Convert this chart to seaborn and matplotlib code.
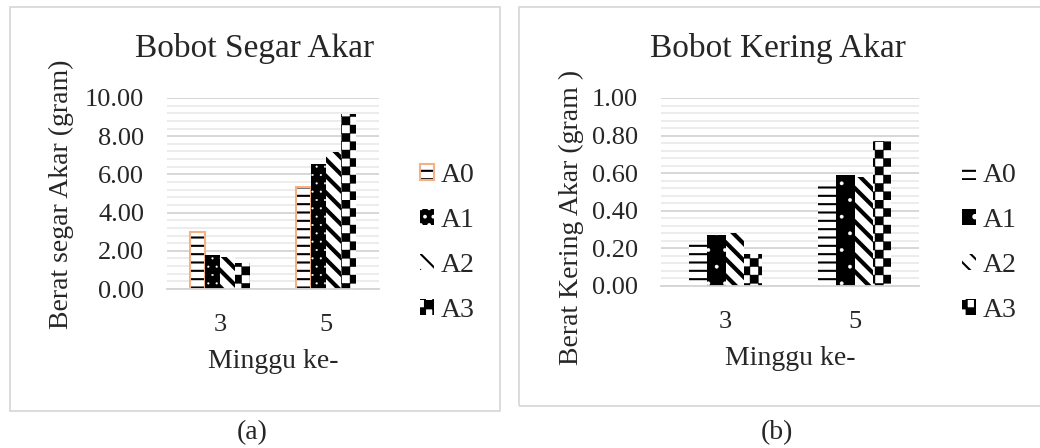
import numpy as np
import pandas as pd
import matplotlib
matplotlib.use("Agg")
import matplotlib.pyplot as plt
import matplotlib.hatch as mhatch
from matplotlib.path import Path
from matplotlib.patches import Rectangle
from matplotlib.ticker import MultipleLocator, FormatStrFormatter
import seaborn as sns

# ---------------- data ----------------
weeks = ["3", "5"]
treatments = ["A0", "A1", "A2", "A3"]
fresh_A0 = [2.97, 5.36]
fresh_A1 = [1.78, 6.56]
fresh_A2 = [1.66, 7.19]
fresh_A3 = [1.35, 9.16]
dry_A0 = [0.23, 0.53]
dry_A1 = [0.27, 0.59]
dry_A2 = [0.28, 0.58]
dry_A3 = [0.17, 0.77]

title_a = "Bobot Segar Akar"
title_b = "Bobot Kering Akar"
ylabel_a = "Berat segar Akar (gram)"
ylabel_b = "Berat Kering Akar (gram )"
xlabel = "Minggu ke-"


# ---------------- checkerboard hatch (replaces '*') ----------------
class CheckerHatch(mhatch.HatchPatternBase):
    def __init__(self, hatch, density):
        n = int(hatch.count("*") * density)
        self.n = n
        self.cells = [(i, j) for i in range(n) for j in range(n) if (i + j) % 2 == 0]
        self.num_vertices = 5 * len(self.cells)

    def set_vertices_and_codes(self, vertices, codes):
        s = 1.0 / self.n
        for k, (i, j) in enumerate(self.cells):
            x0, y0 = i * s, j * s
            vertices[5 * k:5 * k + 5] = [(x0, y0), (x0 + s, y0), (x0 + s, y0 + s),
                                         (x0, y0 + s), (x0, y0)]
            codes[5 * k:5 * k + 5] = [Path.MOVETO, Path.LINETO, Path.LINETO,
                                      Path.LINETO, Path.CLOSEPOLY]


mhatch._hatch_types[:] = [h for h in mhatch._hatch_types if h is not mhatch.Stars] + [CheckerHatch]

sns.set_style("white")
plt.rcParams["font.family"] = ["Liberation Serif", "DejaVu Serif"]
plt.rcParams["hatch.linewidth"] = 1.5

W, H = 1040, 448
fig = plt.figure(figsize=(W / 100, H / 100), dpi=100)


def fx(px):
    return px / W


def fy(py):
    return 1 - py / H


def make_df(vals):
    rows = []
    for t, v in zip(treatments, vals):
        for w, x in zip(weeks, v):
            rows.append({"Minggu": w, "Perlakuan": t, "val": x})
    return pd.DataFrame(rows)


def style_patch(p, face, edge, lw, hatch, hatch_color, hatch_lw):
    p.set_facecolor(face)
    p.set_edgecolor(edge)
    p.set_linewidth(lw)
    p.set_hatch(hatch)
    p._hatch_color = matplotlib.colors.to_rgba(hatch_color)
    if hasattr(p, "set_hatch_linewidth"):
        p.set_hatch_linewidth(hatch_lw)
    else:
        p._hatch_linewidth = hatch_lw


def panel(rect, vals, ymax, major, minor, width, styles, leg_xy):
    ax = fig.add_axes(rect)
    df = make_df(vals)
    sns.barplot(data=df, x="Minggu", y="val", hue="Perlakuan", order=weeks,
                hue_order=treatments, width=width, gap=0, palette=["white"] * 4,
                saturation=1, errorbar=None, legend=False, ax=ax)
    for cont, st in zip(ax.containers, styles):
        for p in cont.patches:
            style_patch(p, *st)
    ax.set_xlim(-0.5, 1.5)
    ax.set_ylim(0, ymax)
    ax.yaxis.set_major_locator(MultipleLocator(major))
    ax.yaxis.set_minor_locator(MultipleLocator(minor))
    ax.yaxis.set_major_formatter(FormatStrFormatter("%.2f"))
    ax.grid(axis="y", which="major", color="#d4d4d4", lw=1.3)
    ax.grid(axis="y", which="minor", color="#ebebeb", lw=1.3)
    ax.grid(axis="x", visible=False)
    ax.set_axisbelow(True)
    for s in ["left", "right", "top"]:
        ax.spines[s].set_visible(False)
    ax.spines["bottom"].set_color("#d4d4d4")
    ax.spines["bottom"].set_linewidth(1.3)
    ax.tick_params(axis="both", which="both", length=0)
    ax.tick_params(axis="y", pad=16.5, labelsize=19)
    ax.tick_params(axis="x", pad=18, labelsize=19)
    ax.set_xlabel("")
    ax.set_ylabel("")
    ax.legend(ax.containers, treatments, loc="center left",
              bbox_to_anchor=leg_xy, bbox_transform=fig.transFigure,
              frameon=False, fontsize=20, handlelength=0.5, handleheight=0.5,
              handletextpad=0.25, labelspacing=0.72, borderpad=0, borderaxespad=0)
    return ax


styles_a = [
    ("white", "#F4B183", 1.5, "--", "black", 1.5),
    ("black", "white", 0, "..", "white", 0.3),
    ("white", "black", 0, "\\\\", "black", 3.0),
    ("white", "black", 0, "**", "black", 0.3),
]
styles_b = [
    ("white", "black", 0, "--", "black", 1.5),
    ("black", "white", 0, ".", "white", 0.3),
    ("white", "black", 0, "\\\\", "black", 3.0),
    ("white", "black", 0, "**", "black", 0.3),
]

# panel (a)
ax_a = panel([fx(167), fy(289), fx(379) - fx(167), fy(98) - fy(289)],
             [fresh_A0, fresh_A1, fresh_A2, fresh_A3], 10, 2, 0.4,
             0.575, styles_a, (fx(420), fy(243)))
# panel (b)
ax_b = panel([fx(661), fy(286), fx(919) - fx(661), fy(98) - fy(286)],
             [dry_A0, dry_A1, dry_A2, dry_A3], 1.0, 0.2, 0.04,
             0.565, styles_b, (fx(962), fy(243)))

# frames
fig.patches.append(Rectangle((fx(10), fy(411)), fx(490), 404 / H, transform=fig.transFigure,
                             fill=False, edgecolor="#d9d9d9", lw=1.3))
fig.patches.append(Rectangle((fx(519), fy(406)), fx(540), 399 / H, transform=fig.transFigure,
                             fill=False, edgecolor="#d9d9d9", lw=1.3))

# texts
fig.text(fx(255), fy(57), title_a, ha="center", va="baseline", fontsize=24)
fig.text(fx(778), fy(57), title_b, ha="center", va="baseline", fontsize=24)
fig.text(fx(61), fy(194), ylabel_a, ha="center", va="center", rotation=90, fontsize=20)
fig.text(fx(571), fy(217), ylabel_b, ha="center", va="center", rotation=90, fontsize=20)
fig.text(fx(273), fy(368), xlabel, ha="center", va="baseline", fontsize=20)
fig.text(fx(790), fy(365), xlabel, ha="center", va="baseline", fontsize=20)
fig.text(fx(252), fy(433), "(a)", ha="center", va="center", fontsize=20)
fig.text(fx(777), fy(433), "(b)", ha="center", va="center", fontsize=20)

fig.savefig("out.png", dpi=100)
